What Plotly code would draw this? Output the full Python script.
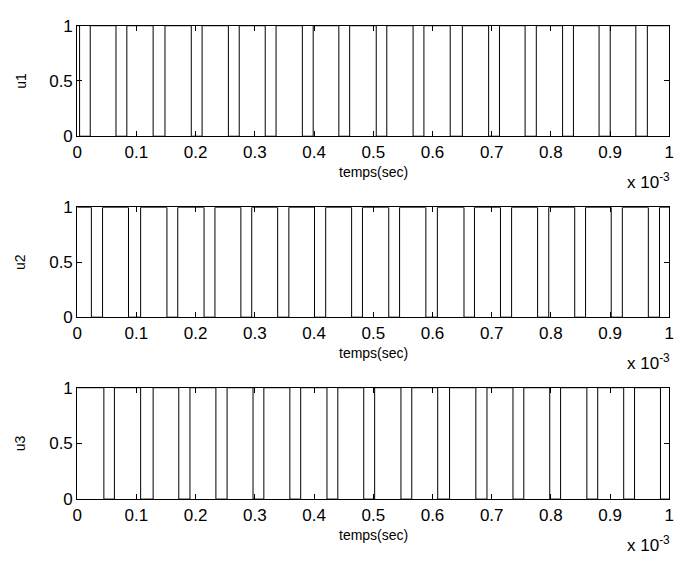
import plotly.graph_objects as go

# Switching instants (in units of 1e-3 s)
u1_switch = [0.004, 0.022, 0.0655, 0.0838, 0.1282, 0.1482, 0.1926, 0.2109,
             0.2553, 0.2736, 0.3175, 0.3358, 0.3802, 0.3985, 0.4418, 0.4601,
             0.5050, 0.5228, 0.5672, 0.5855, 0.6299, 0.6504, 0.6948, 0.7131,
             0.7564, 0.7753, 0.8197, 0.8380, 0.8813, 0.9001, 0.9434, 0.9628]
u2_switch = [0.0239, 0.0428, 0.0866, 0.1071, 0.1515, 0.1698, 0.2142, 0.2326,
             0.2764, 0.2947, 0.3385, 0.3574, 0.4007, 0.4196, 0.4634, 0.4817,
             0.5261, 0.5444, 0.5888, 0.6082, 0.6532, 0.6709, 0.7148, 0.7336,
             0.7775, 0.7963, 0.8402, 0.8585, 0.9018, 0.9206, 0.9645, 0.9834]
u3_switch = [0.0450, 0.0628, 0.1071, 0.1282, 0.1715, 0.1904, 0.2342, 0.2531,
             0.2969, 0.3152, 0.3591, 0.3774, 0.4218, 0.4401, 0.4839, 0.5023,
             0.5467, 0.5650, 0.6088, 0.6288, 0.6732, 0.6920, 0.7359, 0.7542,
             0.7980, 0.8163, 0.8607, 0.8790, 0.9229, 0.9412, 0.9850]
initial_state = [1, 1, 1]
signal_names = ["u1", "u2", "u3"]
x_tick_vals = [0, 0.1, 0.2, 0.3, 0.4, 0.5, 0.6, 0.7, 0.8, 0.9, 1.0]
x_tick_text = ["0", "0.1", "0.2", "0.3", "0.4", "0.5", "0.6", "0.7", "0.8", "0.9", "1"]
y_tick_vals = [0, 0.5, 1]
y_tick_text = ["0", "0.5", "1"]
x_label = "temps(sec)"
t_end = 1.0
scale = 1e-3

W, H = 678, 561
FONT = "Liberation Sans, Arial, sans-serif"

# pixel layout of the axes boxes
x_left_px, x_right_px = 73.3, 674.3
boxes_px = [(17.3, 131.7), (205.3, 319.0), (392.0, 507.3)]


def px2x(p):
    return p / W


def px2y(p):
    return 1 - p / H


fig = go.Figure()
annotations = []
switches = [u1_switch, u2_switch, u3_switch]

for i, (sw, name, s0, (top, bot)) in enumerate(zip(switches, signal_names, initial_state, boxes_px)):
    xs = [0.0] + sw + [t_end]
    ys = []
    state = s0
    ys.append(state)
    for _ in sw:
        state = 1 - state
        ys.append(state)
    ys.append(state)
    xs = [v * scale for v in xs]
    xa = "x" if i == 0 else f"x{i+1}"
    ya = "y" if i == 0 else f"y{i+1}"
    fig.add_trace(go.Scatter(x=xs, y=ys, mode="lines", line=dict(color="black", width=1, shape="hv"),
                             xaxis=xa, yaxis=ya, showlegend=False, hoverinfo="skip"))
    xkey = "xaxis" if i == 0 else f"xaxis{i+1}"
    ykey = "yaxis" if i == 0 else f"yaxis{i+1}"
    fig.layout[xkey] = dict(
        domain=[px2x(x_left_px), px2x(x_right_px)], anchor=ya,
        range=[0, t_end * scale], tickvals=[v * scale for v in x_tick_vals], ticktext=x_tick_text,
        ticks="inside", ticklen=5, tickcolor="black", showline=True, linecolor="black", linewidth=1,
        mirror="ticks", showgrid=False, zeroline=False, ticklabeloverflow="allow",
        tickfont=dict(family=FONT, size=17, color="black"))
    fig.layout[ykey] = dict(
        domain=[px2y(bot), px2y(top)], anchor=xa,
        range=[0, 1], tickvals=y_tick_vals, ticktext=y_tick_text,
        ticks="inside", ticklen=5, tickcolor="black", showline=True, linecolor="black", linewidth=1,
        mirror="ticks", showgrid=False, zeroline=False, ticklabeloverflow="allow",
        tickfont=dict(family=FONT, size=17, color="black"))
    cx = (x_left_px + x_right_px) / 2
    annotations.append(dict(text=x_label, x=px2x(cx), y=px2y(bot + 37), xref="paper", yref="paper",
                            xanchor="center", yanchor="middle", showarrow=False,
                            font=dict(family=FONT, size=14, color="black")))
    annotations.append(dict(text="x 10<sup>-3</sup>", x=px2x(677), y=px2y(bot + 46), xref="paper", yref="paper",
                            xanchor="right", yanchor="middle", showarrow=False,
                            font=dict(family=FONT, size=17, color="black")))
    annotations.append(dict(text=name, x=px2x(16), y=px2y((top + bot) / 2), xref="paper", yref="paper",
                            xanchor="center", yanchor="middle", textangle=-90, showarrow=False,
                            font=dict(family=FONT, size=14, color="black")))

fig.update_layout(width=W, height=H, margin=dict(l=0, r=0, t=0, b=0),
                  paper_bgcolor="white", plot_bgcolor="white", annotations=annotations)

fig.write_html("out.html")
